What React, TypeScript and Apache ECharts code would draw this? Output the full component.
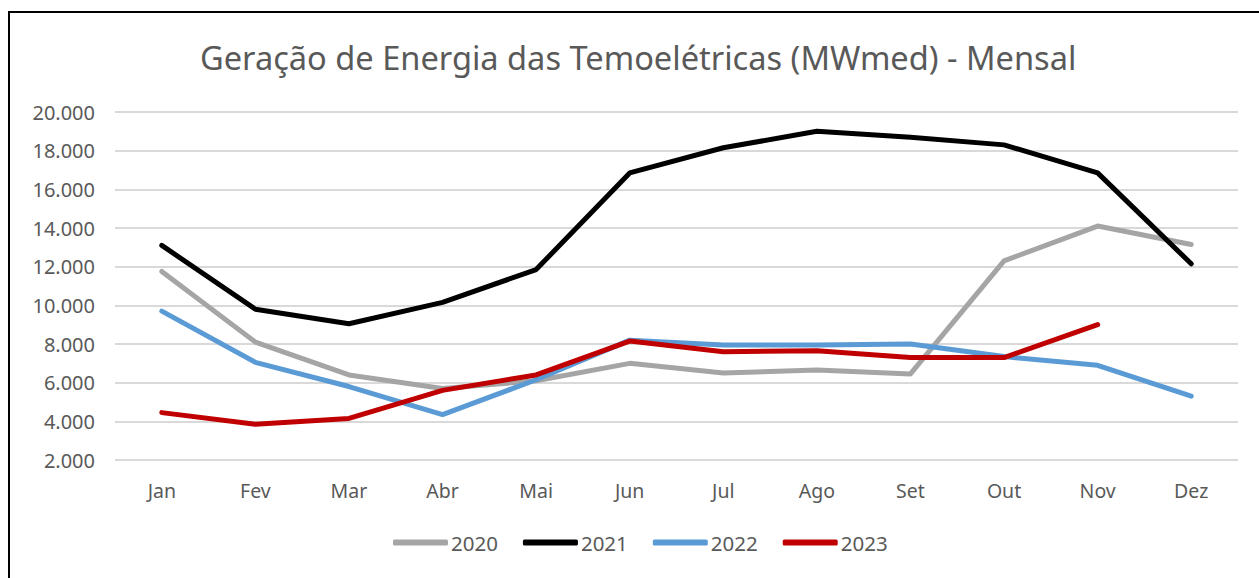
import React, { useEffect, useRef } from "react";
import * as echarts from "echarts";

const months = ["Jan", "Fev", "Mar", "Abr", "Mai", "Jun", "Jul", "Ago", "Set", "Out", "Nov", "Dez"];
const y2020 = [11750, 8100, 6400, 5700, 6100, 7000, 6500, 6650, 6450, 12300, 14100, 13150];
const y2021 = [13100, 9800, 9050, 10150, 11850, 16850, 18150, 19000, 18700, 18300, 16850, 12150];
const y2022 = [9700, 7050, 5800, 4350, 6150, 8200, 7950, 7950, 8000, 7350, 6900, 5300];
const y2023 = [4450, 3850, 4150, 5600, 6400, 8150, 7600, 7650, 7300, 7300, 9000];

const FONT = "'Noto Sans', sans-serif";

export default function App() {
  const ref = useRef<HTMLDivElement>(null);
  useEffect(() => {
    if (!ref.current) return;
    const chart = echarts.init(ref.current, null, { renderer: "svg" });
    const mk = (name: string, data: number[], color: string) => ({
      name,
      type: "line",
      data,
      symbol: "none",
      smooth: false,
      lineStyle: { color, width: 5, cap: "round", join: "round" },
      itemStyle: { color },
    });
    chart.setOption({
      animation: false,
      backgroundColor: "#ffffff",
      textStyle: { fontFamily: FONT },
      title: {
        text: "Geração de Energia das Temoelétricas (MWmed) - Mensal",
        left: 200,
        top: 41,
        padding: 0,
        textStyle: { fontFamily: FONT, fontSize: 32.6, fontWeight: "normal", color: "#595959" },
      },
      graphic: [
        {
          type: "rect",
          shape: { x: 9, y: 12, width: 1262, height: 580 },
          style: { fill: "none", stroke: "#000000", lineWidth: 2 },
          silent: true,
        },
      ],
      legend: {
        bottom: 25,
        left: 393,
        padding: 0,
        itemWidth: 55,
        itemHeight: 6,
        itemGap: 25,
        icon: "roundRect",
        textStyle: { fontFamily: FONT, fontSize: 20.5, color: "#595959", padding: [0, 0, 0, -2] },
        data: ["2020", "2021", "2022", "2023"],
      },
      grid: { left: 115, right: 21, top: 112, bottom: 118, containLabel: false },
      xAxis: {
        type: "category",
        data: months,
        boundaryGap: true,
        axisLine: { show: false },
        axisTick: { show: false },
        axisLabel: { margin: 20, fontFamily: FONT, fontSize: 19.5, color: "#595959" },
      },
      yAxis: {
        type: "value",
        min: 2000,
        max: 20000,
        interval: 2000,
        axisLine: { show: false },
        axisTick: { show: false },
        splitLine: { lineStyle: { color: "#d9d9d9", width: 2 } },
        axisLabel: {
          margin: 20,
          fontFamily: FONT,
          fontSize: 20,
          color: "#595959",
          formatter: (v: number) => v.toString().replace(/\B(?=(\d{3})+(?!\d))/g, "."),
        },
      },
      series: [
        mk("2020", y2020, "#a5a5a5"),
        mk("2021", y2021, "#000000"),
        mk("2022", y2022, "#5b9bd5"),
        mk("2023", y2023, "#c00000"),
      ],
    });
    return () => chart.dispose();
  }, []);
  return (
    <div
      ref={ref}
      style={{ position: "fixed", left: 0, top: 0, width: 1259, height: 578, background: "#fff" }}
    />
  );
}
